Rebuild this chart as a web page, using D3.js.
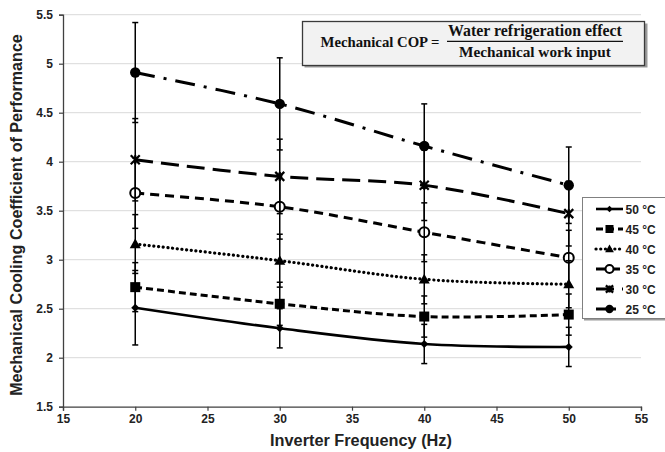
<!DOCTYPE html>
<html><head><meta charset="utf-8">
<script src="https://cdn.jsdelivr.net/npm/d3@7"></script>
<style>
html,body{margin:0;padding:0;background:#fff;}
svg{display:block;}
</style></head>
<body><svg id="c" width="665" height="452" font-family="Liberation Sans, Arial, sans-serif"></svg>
<script>
// ---- data ----
const freqs = [20, 30, 40, 50];
const seriesNames = ["50 °C", "45 °C", "40 °C", "35 °C", "30 °C", "25 °C"];
const cop50 = [2.51, 2.30, 2.14, 2.11];
const cop45 = [2.72, 2.55, 2.42, 2.44];
const cop40 = [3.16, 2.99, 2.80, 2.75];
const cop35 = [3.68, 3.54, 3.28, 3.02];
const cop30 = [4.02, 3.85, 3.76, 3.47];
const cop25 = [4.91, 4.59, 4.16, 3.76];
const err50 = [0.38, 0.20, 0.20, 0.20];
const err45 = [0.25, 0.22, 0.21, 0.21];
const err40 = [0.30, 0.27, 0.25, 0.24];
const err35 = [0.36, 0.33, 0.30, 0.28];
const err30 = [0.42, 0.38, 0.36, 0.33];
const err25 = [0.51, 0.47, 0.43, 0.39];
const xTicks = [15, 20, 25, 30, 35, 40, 45, 50, 55];
const yTicks = [1.5, 2, 2.5, 3, 3.5, 4, 4.5, 5, 5.5];
const xTitle = "Inverter Frequency (Hz)";
const yTitle = "Mechanical Cooling Coefficient of Performance";
const formulaLeft = "Mechanical COP =";
const formulaNum = "Water refrigeration effect";
const formulaDen = "Mechanical work input";

const values = [cop50, cop45, cop40, cop35, cop30, cop25];
const errors = [err50, err45, err40, err35, err30, err25];
const styles = [
  {dash: null, w: 2.6, marker: "diamond"},
  {dash: "7,4", w: 3, marker: "square"},
  {dash: "0.1,4.6", w: 3.2, marker: "triangle", cap: "round"},
  {dash: "9,6", w: 3, marker: "open"},
  {dash: "18,8", w: 3, marker: "star"},
  {dash: "20,9,3,9", w: 3, marker: "circle"}
];

const svg = d3.select("#c");
const x = d3.scaleLinear().domain([15, 55]).range([63, 641]);
const y = d3.scaleLinear().domain([1.5, 5.5]).range([406.7, 14.7]);

function fit(t, w) {
  const len = t.node().getComputedTextLength();
  const fs = +t.attr("font-size");
  t.attr("font-size", fs * w / len);
}

// gridlines
svg.append("g").selectAll("line").data(yTicks.slice(1)).join("line")
  .attr("x1", x(15)).attr("x2", x(55))
  .attr("y1", d => y(d)).attr("y2", d => y(d))
  .attr("stroke", "#d9d9d9").attr("stroke-width", 1);

// axes
const xAxis = svg.append("g").attr("transform", `translate(0,${y(1.5)})`)
  .call(d3.axisBottom(x).tickValues(xTicks).tickSize(4).tickPadding(4).tickFormat(d3.format("d")));
const yAxis = svg.append("g").attr("transform", `translate(${x(15)},0)`)
  .call(d3.axisLeft(y).tickValues(yTicks).tickSize(4).tickPadding(6).tickFormat(d => d));
[xAxis, yAxis].forEach(a => {
  a.attr("font-family", null).attr("font-size", null);
  a.select(".domain").attr("stroke", "#404040").attr("stroke-width", 1.3);
  a.selectAll(".tick line").attr("stroke", "#404040").attr("stroke-width", 1.2);
  a.selectAll("text").attr("font-weight", "bold").attr("font-size", 12).attr("fill", "#222");
});
yAxis.selectAll("text").attr("dy", "0.35em");

// axis titles
const xt = svg.append("text").attr("x", 361).attr("y", 446).attr("text-anchor", "middle")
  .attr("font-weight", "bold").attr("font-size", 15).attr("fill", "#222").text(xTitle);
fit(xt, 182);
const yt = svg.append("text").attr("transform", "translate(22,215) rotate(-90)").attr("text-anchor", "middle")
  .attr("font-weight", "bold").attr("font-size", 15).attr("fill", "#222").text(yTitle);
fit(yt, 362);

// marker drawing
function drawMarker(g, type, cx, cy, s) {
  s = s || 1;
  if (type === "diamond") {
    const r = 4 * s;
    g.append("path").attr("d", `M${cx},${cy - r}L${cx + r},${cy}L${cx},${cy + r}L${cx - r},${cy}Z`).attr("fill", "#000");
  } else if (type === "square") {
    const r = 5 * s;
    g.append("rect").attr("x", cx - r).attr("y", cy - r).attr("width", 2 * r).attr("height", 2 * r).attr("fill", "#000");
  } else if (type === "triangle") {
    const r = 5.5 * s;
    g.append("path").attr("d", `M${cx},${cy - r}L${cx + r},${cy + r * 0.75}L${cx - r},${cy + r * 0.75}Z`).attr("fill", "#000");
  } else if (type === "open") {
    g.append("circle").attr("cx", cx).attr("cy", cy).attr("r", 5 * s).attr("fill", "#fff").attr("stroke", "#000").attr("stroke-width", 2);
  } else if (type === "star") {
    const r = 4.5 * s;
    g.append("path").attr("d", `M${cx - r},${cy - r}L${cx + r},${cy + r}M${cx - r},${cy + r}L${cx + r},${cy - r}M${cx},${cy - r}L${cx},${cy + r}`)
      .attr("stroke", "#000").attr("stroke-width", 2.2).attr("fill", "none");
  } else if (type === "circle") {
    g.append("circle").attr("cx", cx).attr("cy", cy).attr("r", 5.2 * s).attr("fill", "#000");
  }
}

const line = d3.line().x(d => x(d[0])).y(d => y(d[1])).curve(d3.curveCatmullRom.alpha(0.5));

// lines
const gl = svg.append("g");
values.forEach((vals, i) => {
  const st = styles[i];
  const pts = freqs.map((f, j) => [f, vals[j]]);
  gl.append("path").attr("d", line(pts)).attr("fill", "none").attr("stroke", "#000")
    .attr("stroke-width", st.w).attr("stroke-dasharray", st.dash)
    .attr("stroke-linecap", st.cap || "butt");
});
// markers
const gm = svg.append("g");
values.forEach((vals, i) => {
  freqs.forEach((f, j) => drawMarker(gm, styles[i].marker, x(f), y(vals[j])));
});
// error bars
const ge = svg.append("g").attr("stroke", "#000").attr("stroke-width", 1.5);
values.forEach((vals, i) => {
  freqs.forEach((f, j) => {
    const cx = x(f), lo = y(vals[j] - errors[i][j]), hi = y(vals[j] + errors[i][j]);
    ge.append("line").attr("x1", cx).attr("x2", cx).attr("y1", lo).attr("y2", hi);
    ge.append("line").attr("x1", cx - 3).attr("x2", cx + 3).attr("y1", lo).attr("y2", lo);
    ge.append("line").attr("x1", cx - 3).attr("x2", cx + 3).attr("y1", hi).attr("y2", hi);
  });
});

// formula box
const fb = svg.append("g");
fb.append("rect").attr("x", 304.5).attr("y", 23.5).attr("width", 343).attr("height", 44).attr("fill", "#9a9a9a");
fb.append("rect").attr("x", 302.5).attr("y", 21.5).attr("width", 342).attr("height", 44)
  .attr("fill", "#f2f2f2").attr("stroke", "#3a3a3a").attr("stroke-width", 1.3);
const serif = "'Liberation Serif', 'DejaVu Serif', serif";
const tl = fb.append("text").attr("x", 320.5).attr("y", 47).style("font-family", serif)
  .attr("font-weight", "bold").attr("font-size", 14).attr("fill", "#111").text(formulaLeft);
fit(tl, 119);
const tn = fb.append("text").attr("x", 535).attr("y", 36).attr("text-anchor", "middle").style("font-family", serif)
  .attr("font-weight", "bold").attr("font-size", 14).attr("fill", "#111").text(formulaNum);
fit(tn, 174);
fb.append("line").attr("x1", 447).attr("x2", 623).attr("y1", 41.3).attr("y2", 41.3).attr("stroke", "#111").attr("stroke-width", 1.2);
const td = fb.append("text").attr("x", 535).attr("y", 56.5).attr("text-anchor", "middle").style("font-family", serif)
  .attr("font-weight", "bold").attr("font-size", 14).attr("fill", "#111").text(formulaDen);
fit(td, 152);

// legend
const lg = svg.append("g");
lg.append("rect").attr("x", 584).attr("y", 199.5).attr("width", 90).attr("height", 121).attr("fill", "#9a9a9a");
lg.append("rect").attr("x", 582.5).attr("y", 197.5).attr("width", 90).attr("height", 121)
  .attr("fill", "#fff").attr("stroke", "#808080").attr("stroke-width", 1);
seriesNames.forEach((name, i) => {
  const cy = 209 + i * 20;
  const st = styles[i];
  lg.append("line").attr("x1", 596).attr("x2", 623).attr("y1", cy).attr("y2", cy)
    .attr("stroke", "#000").attr("stroke-width", st.w).attr("stroke-dasharray", st.dash)
    .attr("stroke-linecap", st.cap || "butt");
  drawMarker(lg, st.marker, 609.5, cy, 0.8);
  lg.append("text").attr("x", 625.5).attr("y", cy + 4.5).attr("font-weight", "bold")
    .attr("font-size", 12).attr("fill", "#222").text(name);
});
</script></body></html>
